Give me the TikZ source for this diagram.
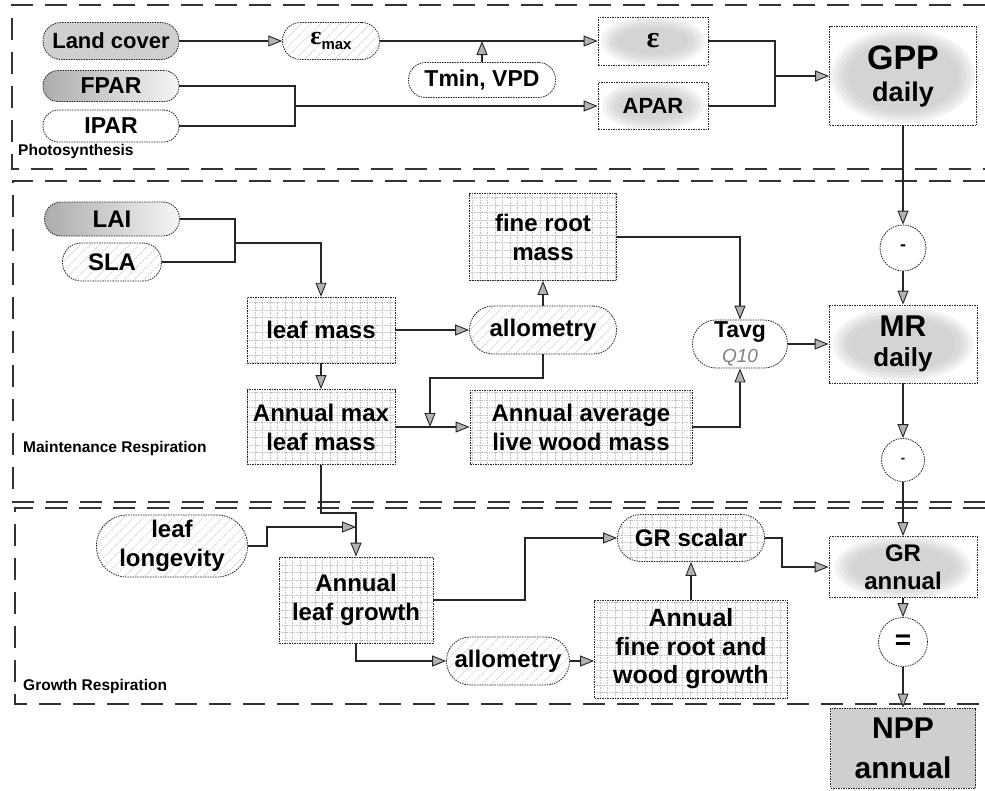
\documentclass[tikz,border=0pt]{standalone}
\usepackage{fontspec}
\setmainfont{Liberation Sans}
\newfontfamily\grserif{Liberation Serif}
\usetikzlibrary{arrows.meta,shapes.misc,patterns.meta,calc}
\newcommand{\fsz}[1]{\fontsize{#1}{#1}\selectfont}
\tikzset{
  bord/.style={draw=black!85, line width=0.8pt, dash pattern=on 1.5pt off 1pt},
  pill/.style={rectangle, rounded corners=#1, bord, inner sep=0pt, align=center},
  box/.style={rectangle, bord, inner sep=0pt, align=center},
  hatchf/.style={pattern={Lines[angle=45,distance=7pt,line width=0.5pt]}, pattern color=gray!50},
  gridf/.style={pattern={Hatch[angle=0,distance=7.5pt,line width=0.5pt]}, pattern color=gray!50},
  ellbox/.style 2 args={box, path picture={
    \fill[gray!10] (path picture bounding box.center) ellipse [x radius=#1+6, y radius=#2+5];
    \fill[gray!17] (path picture bounding box.center) ellipse [x radius=#1+2, y radius=#2+2];
    \fill[gray!24] (path picture bounding box.center) ellipse [x radius=#1-2, y radius=#2-1];
    \fill[gray!30] (path picture bounding box.center) ellipse [x radius=#1-6, y radius=#2-4];
    \fill[gray!34] (path picture bounding box.center) ellipse [x radius=#1-11, y radius=#2-7];}},
  circ/.style={circle, bord, fill=white, minimum size=46pt, inner sep=0pt},
  ln/.style={line width=2.6pt, draw=black!85},
  arr/.style={ln, -{Triangle[length=14pt,width=11pt,fill=gray!60,line width=0.9pt]}},
  panel/.style={line width=2.6pt, draw=black!80, dash pattern=on 22pt off 12pt},
  plabel/.style={font=\fontsize{15.5}{17}\selectfont\bfseries, anchor=west, inner sep=0pt},
  main/.style={font=\fontsize{24}{29}\selectfont\bfseries},
  top/.style={font=\fontsize{23}{26}\selectfont\bfseries},
}
\begin{document}
\begin{tikzpicture}[x=1pt,y=-1pt]
\useasboundingbox (0,0) rectangle (985,790);
\fill[white] (0,0) rectangle (985,790);
% panels
\draw[panel] (985,5) -- (12,5) -- (12,169) -- (985,169);
\draw[panel] (985,181) -- (13,181) -- (13,502) -- (985,502);
\draw[panel] (985,508) -- (15,508) -- (15,704) -- (985,704);
\node[plabel] (lp) at (18,151) {Photosynthesis};
\node[plabel] (lm) at (23,448) {Maintenance Respiration};
\node[plabel] (lgr) at (23,686) {Growth Respiration};
% photosynthesis
\node[pill=18pt, fill=gray!38, minimum width=136pt, minimum height=37pt, font=\fsz{22}\bfseries] (lc) at (111,41) {Land cover};
\node[pill=18pt, hatchf, minimum width=97pt, minimum height=37pt] (emax) at (331,41) {{\grserif\fsz{26}\bfseries ε}\raisebox{-5pt}{\fsz{15}\bfseries max}};
\node[pill=15pt, left color=gray!65, right color=gray!8, minimum width=136pt, minimum height=31pt, top] (fpar) at (111,86) {FPAR};
\node[pill=15.5pt, fill=white, minimum width=136pt, minimum height=32pt, top] (ipar) at (111,126) {IPAR};
\node[pill=17pt, fill=white, minimum width=147pt, minimum height=35pt, top] (tmin) at (482,80) {Tmin, VPD};
\node[ellbox={46}{20}, minimum width=110pt, minimum height=48pt, font=\grserif\fsz{30}\bfseries] (eps) at (653,41) {ε};
\node[ellbox={45}{20}, minimum width=110pt, minimum height=47pt, font=\fsz{22}\bfseries] (apar) at (653,106) {APAR};
\node[ellbox={66}{42}, minimum width=147pt, minimum height=99pt, font=\fontsize{27}{32}\selectfont\bfseries] (gpp) at (903,76) {{\fontsize{34}{32}\selectfont GPP}\\daily};
\coordinate (j1) at (295,106);
\coordinate (j2) at (775,76);
\draw[arr] (lc.east) -- (emax.west);
\draw[arr] (emax.east) -- (eps.west);
\draw[arr] (tmin.north) -- (tmin.north |- emax.east);
\draw[ln] (fpar.east) -| (j1) |- (ipar.east);
\draw[arr] (j1) -- (apar.west);
\draw[ln] (eps.east) -| (j2) |- (apar.east);
\draw[arr] (j2) -- (gpp.west);
% maintenance
\node[pill=16.5pt, left color=gray!65, right color=gray!8, minimum width=135pt, minimum height=34pt, main] (lai) at (112,219) {LAI};
\node[pill=18.5pt, hatchf, minimum width=99pt, minimum height=38pt, main] (sla) at (112,262) {SLA};
\node[box, gridf, main, minimum width=148pt, minimum height=66pt] (leafmass) at (321,330) {leaf mass};
\node[pill=23.5pt, hatchf, main, minimum width=147pt, minimum height=48pt] (allo1) at (543,330) {allometry};
\node[box, gridf, main, minimum width=147pt, minimum height=87pt] (fineroot) at (543,237) {fine root\\mass};
\node[box, gridf, main, minimum width=148pt, minimum height=75pt] (annmax) at (321,427) {Annual max\\leaf mass};
\node[box, gridf, main, minimum width=222pt, minimum height=74pt] (annavg) at (581,427) {Annual average\\live wood mass};
\node[pill=23.5pt, fill=white, minimum width=95pt, minimum height=48pt, font=\fontsize{23}{25}\selectfont\bfseries] (tavg) at (740,344) {Tavg\\{\fontsize{19}{25}\selectfont\mdseries\itshape\color{gray}Q10}};
\node[ellbox={64}{32}, minimum width=148pt, minimum height=78pt, font=\fontsize{26}{30}\selectfont\bfseries] (mr) at (903,344) {{\fontsize{30}{30}\selectfont MR}\\daily};
\node[circ, font=\fsz{18}\bfseries] (c1) at (903,248) {-};
\node[circ, minimum size=43pt, font=\fsz{13}\bfseries] (c2) at (903,460) {-};
\coordinate (j3) at (235,243);
\coordinate (j4) at (430,378);
\draw[ln] (lai.east) -| (j3) |- (sla.east);
\draw[arr] (j3) -| (leafmass.north);
\draw[arr] (leafmass.east) -- (allo1.west);
\draw[arr] (allo1.north) -- (fineroot.south);
\draw[arr] (allo1.south) |- (j4) -- (j4 |- annmax.east);
\draw[arr] (leafmass.south) -- (annmax.north);
\draw[arr] (annmax.east) -- (annavg.west);
\draw[arr] (fineroot.east) -| (tavg.north);
\draw[arr] (annavg.east) -| (tavg.south);
\draw[arr] (tavg.east) -- (mr.west);
\draw[arr] (gpp.south) -- (c1.north);
\draw[arr] (c1.south) -- (mr.north);
\draw[arr] (mr.south) -- (c2.north);
% growth
\node[pill=30.5pt, hatchf, main, minimum width=151pt, minimum height=62pt] (ll) at (172,546) {leaf\\longevity};
\node[box, gridf, main, minimum width=154pt, minimum height=86pt] (lg) at (356,600) {Annual\\leaf growth};
\node[pill=23pt, gridf, main, minimum width=147pt, minimum height=47pt] (grs) at (691,538) {GR scalar};
\node[box, gridf, font=\fontsize{25}{28.5}\selectfont\bfseries, minimum width=193pt, minimum height=98pt] (frw) at (691,649) {Annual\\fine root and\\wood growth};
\node[pill=23.5pt, hatchf, main, minimum width=123pt, minimum height=48pt] (allo2) at (508,661) {allometry};
\node[ellbox={62}{27}, minimum width=148pt, minimum height=61pt, font=\fontsize{24}{28}\selectfont\bfseries] (gra) at (903,567) {GR\\annual};
\node[circ, minimum size=49pt, font=\fsz{28}\bfseries] (c3) at (903,642) {=};
\node[box, fill=gray!38, minimum width=145pt, minimum height=80pt, font=\fontsize{30}{40}\selectfont\bfseries] (npp) at (903,748) {NPP\\annual};
\coordinate (j5) at (356,513);
\coordinate (j6) at (267,527);
\coordinate (j7) at (525,600);
\coordinate (j8) at (782,538);
\draw[arr] (annmax.south) |- (j5) -- (lg.north);
\draw[arr] (ll.east) -| (j6) -- (lg.north |- j6);
\draw[arr] (lg.east) -- (j7) |- (grs.west);
\draw[arr] (frw.north) -- (grs.south);
\draw[arr] (lg.south) |- (allo2.west);
\draw[arr] (allo2.east) -- (allo2.east -| frw.west);
\draw[arr] (grs.east) -- (j8) |- (gra.west);
\draw[arr] (c2.south) -- (gra.north);
\draw[arr] (gra.south) -- (c3.north);
\draw[arr] (c3.south) -- (npp.north);
\end{tikzpicture}
\end{document}
